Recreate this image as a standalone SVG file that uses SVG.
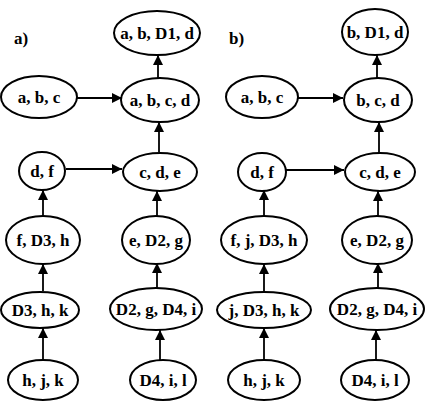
<svg xmlns="http://www.w3.org/2000/svg" width="425" height="407" viewBox="0 0 425 407">
<style>
ellipse{fill:#fff;stroke:#000;stroke-width:2}
text{font-family:'Liberation Serif','Times New Roman','DejaVu Serif',serif;font-weight:bold;font-size:17px;text-anchor:middle;dominant-baseline:central;fill:#000}
.lbl{text-anchor:start}
.c line{stroke:#000;stroke-width:1.8}
</style>
<defs>
<marker id="ah" viewBox="0 0 10 10" refX="10" refY="5" markerWidth="13" markerHeight="10" markerUnits="userSpaceOnUse" orient="auto">
<path d="M0,0L10,5L0,10z" fill="#000"/>
</marker>
</defs>
<rect width="425" height="407" fill="#fff"/>
<text class="lbl" x="14" y="38">a)</text>
<text class="lbl" x="229" y="38">b)</text>
<g class="c">
<line x1="158" y1="78" x2="158" y2="55" marker-end="url(#ah)"/>
<line x1="77" y1="98" x2="122" y2="98" marker-end="url(#ah)"/>
<line x1="159" y1="152" x2="159" y2="122" marker-end="url(#ah)"/>
<line x1="66" y1="169" x2="122" y2="169" marker-end="url(#ah)"/>
<line x1="43" y1="215" x2="43" y2="190" marker-end="url(#ah)"/>
<line x1="157" y1="216" x2="157" y2="191" marker-end="url(#ah)"/>
<line x1="43" y1="291" x2="43" y2="264" marker-end="url(#ah)"/>
<line x1="157" y1="288" x2="157" y2="263" marker-end="url(#ah)"/>
<line x1="43" y1="360" x2="43" y2="328" marker-end="url(#ah)"/>
<line x1="160" y1="360" x2="160" y2="330" marker-end="url(#ah)"/>
<line x1="377" y1="78" x2="377" y2="55" marker-end="url(#ah)"/>
<line x1="298" y1="98" x2="343" y2="98" marker-end="url(#ah)"/>
<line x1="379" y1="153" x2="379" y2="122" marker-end="url(#ah)"/>
<line x1="286" y1="170" x2="344" y2="170" marker-end="url(#ah)"/>
<line x1="264" y1="215" x2="264" y2="190" marker-end="url(#ah)"/>
<line x1="378" y1="216" x2="378" y2="191" marker-end="url(#ah)"/>
<line x1="264" y1="291" x2="264" y2="264" marker-end="url(#ah)"/>
<line x1="378" y1="288" x2="378" y2="263" marker-end="url(#ah)"/>
<line x1="264" y1="360" x2="264" y2="328" marker-end="url(#ah)"/>
<line x1="376" y1="360" x2="376" y2="330" marker-end="url(#ah)"/>
</g>
<g id="a1"><ellipse cx="157" cy="33" rx="43" ry="22"/><text x="157" y="33">a, b, D1, d</text></g>
<g id="a2"><ellipse cx="39" cy="97" rx="38" ry="21"/><text x="39" y="97">a, b, c</text></g>
<g id="a3"><ellipse cx="160" cy="100" rx="39" ry="22"/><text x="160" y="100">a, b, c, d</text></g>
<g id="a4"><ellipse cx="42" cy="171" rx="23" ry="19"/><text x="42" y="171">d, f</text></g>
<g id="a5"><ellipse cx="160" cy="172" rx="37" ry="19"/><text x="160" y="172">c, d, e</text></g>
<g id="a6"><ellipse cx="43" cy="240" rx="37" ry="24"/><text x="43" y="240">f, D3, h</text></g>
<g id="a7"><ellipse cx="156" cy="240" rx="34" ry="24"/><text x="156" y="240">e, D2, g</text></g>
<g id="a8"><ellipse cx="40" cy="310" rx="39" ry="18"/><text x="40" y="310">D3, h, k</text></g>
<g id="a9"><ellipse cx="156" cy="309" rx="46" ry="21"/><text x="156" y="309">D2, g, D4, i</text></g>
<g id="a10"><ellipse cx="43" cy="380" rx="35" ry="20"/><text x="43" y="380">h, j, k</text></g>
<g id="a11"><ellipse cx="163" cy="380" rx="33" ry="20"/><text x="163" y="380">D4, i, l</text></g>
<g id="b1"><ellipse cx="375" cy="32" rx="33" ry="23"/><text x="375" y="32">b, D1, d</text></g>
<g id="b2"><ellipse cx="262" cy="97" rx="36" ry="21"/><text x="262" y="97">a, b, c</text></g>
<g id="b3"><ellipse cx="378" cy="100" rx="34" ry="22"/><text x="378" y="100">b, c, d</text></g>
<g id="b4"><ellipse cx="262" cy="172" rx="24" ry="19"/><text x="262" y="172">d, f</text></g>
<g id="b5"><ellipse cx="380" cy="172" rx="35" ry="19"/><text x="380" y="172">c, d, e</text></g>
<g id="b6"><ellipse cx="264" cy="240" rx="43" ry="24"/><text x="264" y="240">f, j, D3, h</text></g>
<g id="b7"><ellipse cx="377" cy="240" rx="35" ry="24"/><text x="377" y="240">e, D2, g</text></g>
<g id="b8"><ellipse cx="264" cy="310" rx="47" ry="18"/><text x="264" y="310">j, D3, h, k</text></g>
<g id="b9"><ellipse cx="377" cy="309" rx="47" ry="21"/><text x="377" y="309">D2, g, D4, i</text></g>
<g id="b10"><ellipse cx="264" cy="380" rx="36" ry="20"/><text x="264" y="380">h, j, k</text></g>
<g id="b11"><ellipse cx="375" cy="380" rx="34" ry="20"/><text x="375" y="380">D4, i, l</text></g>
</svg>
